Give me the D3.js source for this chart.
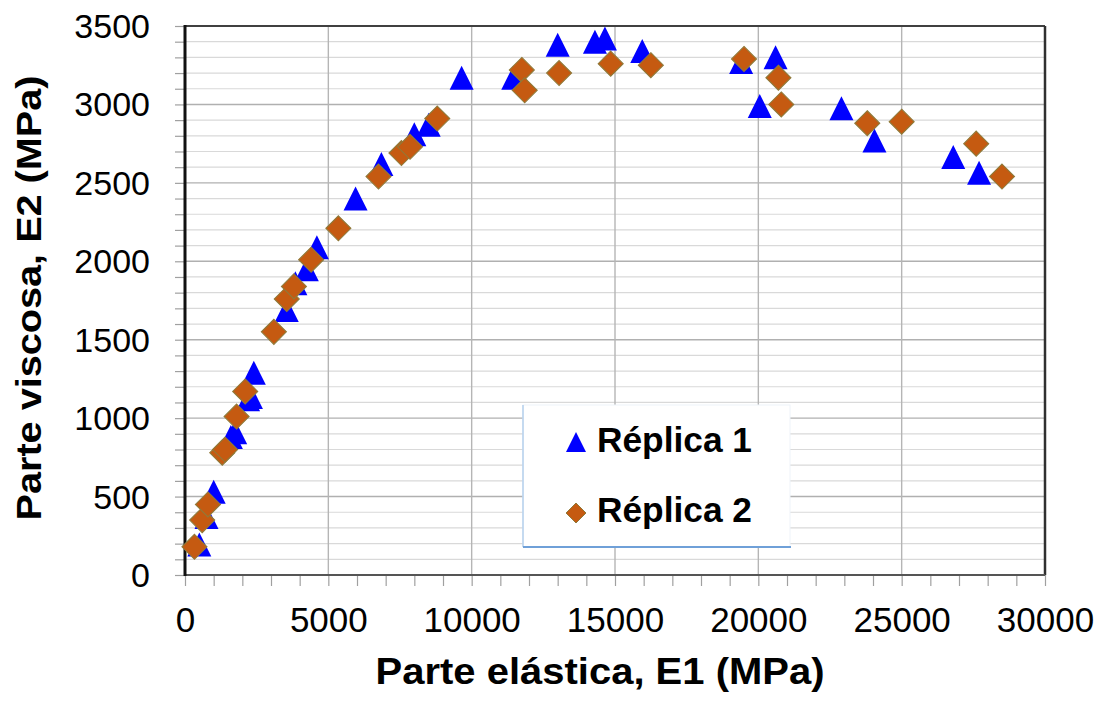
<!DOCTYPE html>
<html>
<head>
<meta charset="utf-8">
<script src="https://cdn.jsdelivr.net/npm/d3@7"></script>
<style>
  html, body { margin: 0; padding: 0; background: #fff; }
  svg { display: block; font-family: "Liberation Sans", Arial, sans-serif; }
</style>
</head>
<body>
<svg id="chart" width="1106" height="702"></svg>
<script>
// Réplica 1: E1 (MPa) vs E2 (MPa)
const rep1E1 = [500, 750, 1000, 1600, 1750, 2200, 2300, 2400, 3550, 3850, 4250, 4600, 5950, 6850, 8000, 8500, 9650, 11450, 13000, 14300, 14650, 15950, 19400, 20050, 20600, 22900, 24050, 26800, 27700];
const rep1E2 = [195, 370, 530, 880, 910, 1120, 1135, 1290, 1690, 1860, 1950, 2090, 2400, 2620, 2810, 2870, 3170, 3170, 3380, 3400, 3420, 3340, 3270, 2990, 3300, 2975, 2770, 2665, 2565];

// Réplica 2: E1 (MPa) vs E2 (MPa)
const rep2E1 = [330, 600, 800, 1300, 1400, 1800, 2100, 3100, 3550, 3800, 4400, 5350, 6750, 7550, 7850, 8800, 11750, 11850, 13050, 14850, 16250, 19500, 20700, 20800, 23800, 25000, 27600, 28500];
const rep2E2 = [180, 350, 450, 780, 800, 1010, 1170, 1550, 1760, 1840, 2010, 2210, 2540, 2690, 2730, 2910, 3220, 3090, 3200, 3260, 3250, 3290, 3170, 3000, 2880, 2890, 2750, 2540];

const seriesNames = ["Réplica 1", "Réplica 2"];
const xTicks = [0, 5000, 10000, 15000, 20000, 25000, 30000];
const yTicks = [0, 500, 1000, 1500, 2000, 2500, 3000, 3500];
const xTitle = "Parte elástica, E1 (MPa)";
const yTitle = "Parte viscosa, E2 (MPa)";

const svg = d3.select("#chart");
const m = { left: 185, top: 26, right: 1045, bottom: 575 };

const x = d3.scaleLinear().domain([0, 30000]).range([m.left, m.right]);
const y = d3.scaleLinear().domain([0, 3500]).range([m.bottom, m.top]);

// horizontal gridlines every 100 MPa, stronger every 500
const g = svg.append("g");
g.selectAll("line.hminor")
  .data(d3.range(100, 3500, 100).filter(v => v % 500 !== 0))
  .join("line")
  .attr("x1", m.left).attr("x2", m.right)
  .attr("y1", d => y(d)).attr("y2", d => y(d))
  .attr("stroke", "#d9d9d9").attr("stroke-width", 1.2);
g.selectAll("line.hmajor")
  .data(yTicks.filter(v => v > 0 && v < 3500))
  .join("line")
  .attr("x1", m.left).attr("x2", m.right)
  .attr("y1", d => y(d)).attr("y2", d => y(d))
  .attr("stroke", "#b0b0b0").attr("stroke-width", 1.4);
// vertical gridlines
g.selectAll("line.v")
  .data(xTicks.filter(v => v > 0 && v < 30000))
  .join("line")
  .attr("y1", m.top).attr("y2", m.bottom)
  .attr("x1", d => x(d)).attr("x2", d => x(d))
  .attr("stroke", "#b5b5b5").attr("stroke-width", 1.4);

// x axis: ticks every 1000, labels every 5000
const xAxis = d3.axisBottom(x)
  .tickValues(d3.range(0, 30001, 1000))
  .tickSize(11)
  .tickFormat(d => (d % 5000 === 0 ? d3.format("d")(d) : ""));
const gx = svg.append("g").attr("transform", `translate(0,${m.bottom})`).call(xAxis);
gx.select(".domain").remove();
gx.selectAll(".tick line").attr("stroke", "#a0a0a0").attr("stroke-width", 1.2);
gx.selectAll(".tick text")
  .attr("y", 57).attr("dy", 0)
  .attr("font-size", 35).attr("fill", "#000")
  .attr("font-family", "Liberation Sans, Arial, sans-serif");

// y axis: ticks every 100, labels every 500
const yAxis = d3.axisLeft(y)
  .tickValues(d3.range(0, 3501, 100))
  .tickSize(10)
  .tickFormat(d => (d % 500 === 0 ? d3.format("d")(d) : ""));
const gy = svg.append("g").attr("transform", `translate(${m.left},0)`).call(yAxis);
gy.select(".domain").remove();
gy.selectAll(".tick line").attr("stroke", "#a0a0a0").attr("stroke-width", 1.2);
gy.selectAll(".tick text")
  .attr("x", -35).attr("dy", "0.34em")
  .attr("font-size", 34).attr("fill", "#000")
  .attr("font-family", "Liberation Sans, Arial, sans-serif");

// plot frame
svg.append("line").attr("x1", m.left).attr("x2", m.right).attr("y1", m.top).attr("y2", m.top)
  .attr("stroke", "#404040").attr("stroke-width", 2);
svg.append("line").attr("x1", m.right).attr("x2", m.right).attr("y1", m.top).attr("y2", m.bottom)
  .attr("stroke", "#303030").attr("stroke-width", 2.5);
svg.append("line").attr("x1", m.left).attr("x2", m.right).attr("y1", m.bottom).attr("y2", m.bottom)
  .attr("stroke", "#555", ).attr("stroke-width", 2);
svg.append("line").attr("x1", m.left).attr("x2", m.left).attr("y1", m.top - 1).attr("y2", m.bottom + 1)
  .attr("stroke", "#111").attr("stroke-width", 3);

// marker shapes
function triPath(cx, cy, w, h) {
  return `M${cx},${cy - h / 2}L${cx + w / 2},${cy + h / 2}L${cx - w / 2},${cy + h / 2}Z`;
}
function diaPath(cx, cy, r) {
  return `M${cx},${cy - r}L${cx + r},${cy}L${cx},${cy + r}L${cx - r},${cy}Z`;
}

const rep1 = rep1E1.map((v, i) => ({ e1: v, e2: rep1E2[i] }));
const rep2 = rep2E1.map((v, i) => ({ e1: v, e2: rep2E2[i] }));

svg.append("g").selectAll("path")
  .data(rep1)
  .join("path")
  .attr("d", d => triPath(x(d.e1), y(d.e2), 24, 24))
  .attr("fill", "#0000ff");

svg.append("g").selectAll("path")
  .data(rep2)
  .join("path")
  .attr("d", d => diaPath(x(d.e1), y(d.e2), 12.5))
  .attr("fill", "#c55a11")
  .attr("stroke", "#8f7a3a")
  .attr("stroke-width", 1.1);

// legend
const lg = svg.append("g");
lg.append("rect").attr("x", 523).attr("y", 405).attr("width", 267).attr("height", 142)
  .attr("fill", "#fff").attr("stroke", "#eef3f9").attr("stroke-width", 1);
lg.append("line").attr("x1", 523).attr("x2", 523).attr("y1", 405).attr("y2", 547)
  .attr("stroke", "#b4cfec").attr("stroke-width", 1.5);
lg.append("line").attr("x1", 523).attr("x2", 791).attr("y1", 547).attr("y2", 547)
  .attr("stroke", "#6fa0d8").attr("stroke-width", 2);
lg.append("path").attr("d", triPath(576, 442, 20, 20)).attr("fill", "#0000ff");
lg.append("path").attr("d", diaPath(576, 513, 10)).attr("fill", "#c55a11")
  .attr("stroke", "#8f7a3a").attr("stroke-width", 1);
lg.selectAll("text.leg")
  .data(seriesNames)
  .join("text")
  .attr("x", 597)
  .attr("y", (d, i) => [452, 522][i])
  .attr("font-size", 35).attr("font-weight", "bold").attr("fill", "#000")
  .attr("textLength", 155).attr("lengthAdjust", "spacingAndGlyphs")
  .text(d => d);

// axis titles
svg.append("text")
  .attr("x", 600).attr("y", 684)
  .attr("text-anchor", "middle")
  .attr("font-size", 36).attr("font-weight", "bold").attr("fill", "#000")
  .attr("textLength", 449).attr("lengthAdjust", "spacingAndGlyphs")
  .text(xTitle);
svg.append("text")
  .attr("transform", "translate(41,298) rotate(-90)")
  .attr("text-anchor", "middle")
  .attr("font-size", 35).attr("font-weight", "bold").attr("fill", "#000")
  .attr("textLength", 445).attr("lengthAdjust", "spacingAndGlyphs")
  .text(yTitle);
</script>
</body>
</html>
